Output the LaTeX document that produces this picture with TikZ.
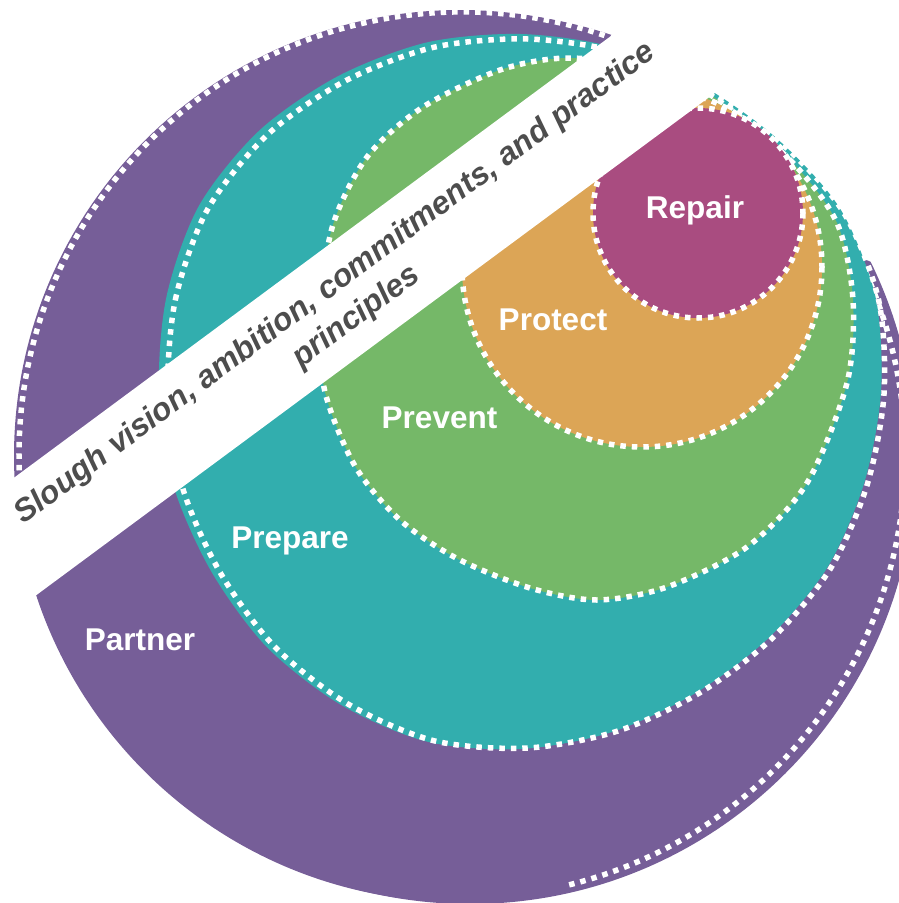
\documentclass[tikz,border=0pt]{standalone}
\usepackage{fontspec}
\setmainfont{Liberation Sans}
\definecolor{cpurple}{RGB}{118,94,152}
\definecolor{cteal}{RGB}{50,174,174}
\definecolor{cgreen}{RGB}{117,184,104}
\definecolor{corange}{RGB}{220,165,86}
\definecolor{cmagenta}{RGB}{169,76,128}
\definecolor{txtgray}{RGB}{77,77,77}
\begin{document}
\begin{tikzpicture}[x=1pt,y=-1pt,
  wdash/.style={draw=white,line width=5.5pt,dash pattern=on 5.5pt off 6pt},
  lbl/.style={text=white,font=\fontsize{31.5}{36}\selectfont\bfseries,anchor=base,inner sep=0pt},
  bandtxt/.style={text=txtgray,font=\fontsize{31.8}{38}\selectfont\bfseries\itshape,anchor=base,inner sep=0pt,rotate=36.5}]
\useasboundingbox (0,0) rectangle (899,903);
% Partner
\fill[cpurple] (460,456) circle[radius=446];
\fill[cpurple] (470,458) circle[radius=446];
\fill[white] (700,-20) -- (700,70) -- (712,91) -- (745,118) -- (793.7,163.2) -- (834.5,211) -- (856.6,256.4) -- (872,262) -- (920,262) -- (920,-20) -- cycle;
\draw[wdash] (462,455) ++(76:443) arc[start angle=76,end angle=-183,radius=443];
% Prepare
\fill[cteal,shift={(521,392)}] plot[smooth cycle] coordinates {(-362,0) (-354.6,-95.0) (-322.2,-186) (-261.6,-261.6) (-182.5,-316.1) (-93.7,-349.7) (0,-358) (92.4,-344.8) (178,-308.3) (254.6,-254.6) (318.7,-184) (354.5,-95) (360,0) (342.9,91.9) (305.7,176.5) (246.8,246.8) (174,301.4) (91.1,340) (0,357) (-93.7,349.7) (-180.5,312.6) (-254.6,254.6) (-310,179) (-347.7,93.2)};
\draw[wdash,shift={(527,394)},scale=0.9917] plot[smooth cycle] coordinates {(-362,0) (-354.6,-95.0) (-322.2,-186) (-261.6,-261.6) (-182.5,-316.1) (-93.7,-349.7) (0,-358) (92.4,-344.8) (178,-308.3) (254.6,-254.6) (318.7,-184) (354.5,-95) (360,0) (342.9,91.9) (305.7,176.5) (246.8,246.8) (174,301.4) (91.1,340) (0,357) (-93.7,349.7) (-180.5,312.6) (-254.6,254.6) (-310,179) (-347.7,93.2)};
% Prevent
\fill[cgreen] plot[smooth cycle] coordinates {(712,96) (790,160) (837,223) (853,300) (847,383) (807,483) (747,547) (667,587) (597,600) (530,588) (458,559) (400,520) (355,466) (325,392) (320,320) (332,228) (367,157) (423,107) (500,70) (567,58) (645,68)};
\draw[wdash] plot[smooth cycle] coordinates {(712,96) (790,160) (837,223) (853,300) (847,383) (807,483) (747,547) (667,587) (597,600) (530,588) (458,559) (400,520) (355,466) (325,392) (320,320) (332,228) (367,157) (423,107) (500,70) (567,58) (645,68)};
% Protect
\fill[corange] (642,267) circle[radius=180];
\draw[wdash] (642,267) circle[radius=180];
% Repair
\fill[cmagenta] (698,213) circle[radius=105];
\draw[wdash] (698,213) circle[radius=105];
% band
\fill[white] (-60,532.5) -- (960,-222.3) -- (960,-88.4) -- (-60,666.4) -- cycle;
\node[bandtxt] (line1) at (340.3,290.6) {Slough vision, ambition, commitments, and practice};
\node[bandtxt] (line2) at (361.6,323.8) {principles};
% labels
\node[lbl] (repair) at (695,218) {Repair};
\node[lbl] (protect) at (553,330) {Protect};
\node[lbl] (prevent) at (439.5,428) {Prevent};
\node[lbl] (prepare) at (290,548) {Prepare};
\node[lbl] (partner) at (140,650) {Partner};
\end{tikzpicture}
\end{document}
